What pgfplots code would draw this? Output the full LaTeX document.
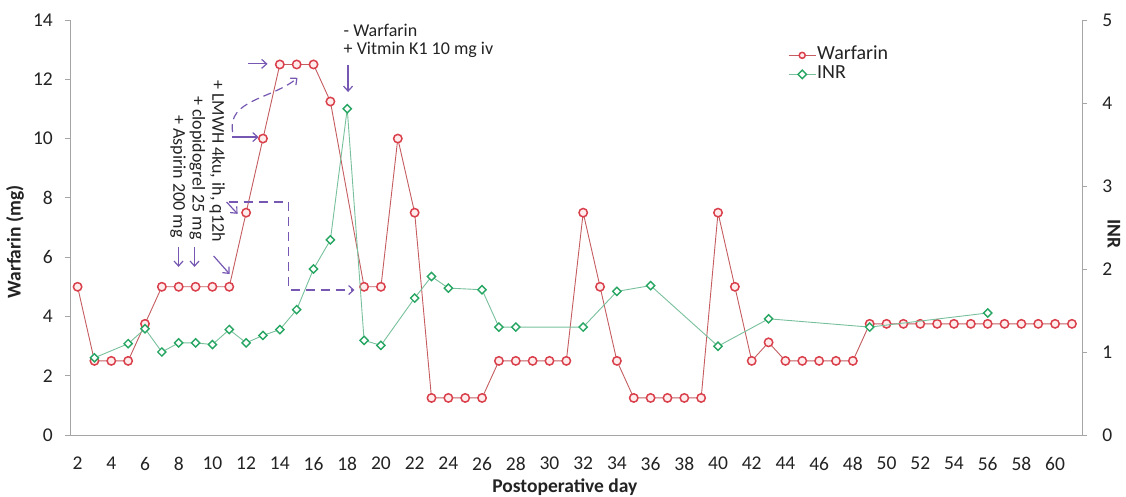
\documentclass[border=0pt]{standalone}
\usepackage{fontspec}
\setmainfont{Carlito}
\usepackage{pgfplots}
\usepackage{pgfplotstable}
\pgfplotsset{compat=1.18}
\usetikzlibrary{arrows.meta}

\definecolor{wred}{RGB}{218,64,76}
\definecolor{wline}{RGB}{196,92,96}
\definecolor{wfill}{RGB}{255,236,236}
\definecolor{igreen}{RGB}{38,166,98}
\definecolor{iline}{RGB}{120,192,156}
\definecolor{ipurple}{RGB}{118,88,178}
\definecolor{axgray}{RGB}{165,165,165}
\definecolor{txt}{RGB}{35,35,35}

\pgfplotstableread{
day warf
2 5
3 2.5
4 2.5
5 2.5
6 3.75
7 5
8 5
9 5
10 5
11 5
12 7.5
13 10
14 12.5
15 12.5
16 12.5
17 11.25
19 5
20 5
21 10
22 7.5
23 1.25
24 1.25
25 1.25
26 1.25
27 2.5
28 2.5
29 2.5
30 2.5
31 2.5
32 7.5
33 5
34 2.5
35 1.25
36 1.25
37 1.25
38 1.25
39 1.25
40 7.5
41 5
42 2.5
43 3.125
44 2.5
45 2.5
46 2.5
47 2.5
48 2.5
49 3.75
50 3.75
51 3.75
52 3.75
53 3.75
54 3.75
55 3.75
56 3.75
57 3.75
58 3.75
59 3.75
60 3.75
61 3.75
}\warfdata

\pgfplotstableread{
day inr
3 0.93
5 1.10
6 1.28
7 1.00
8 1.11
9 1.11
10 1.09
11 1.27
12 1.11
13 1.20
14 1.27
15 1.51
16 2.00
17 2.35
18 3.93
19 1.14
20 1.08
22 1.65
23 1.91
24 1.77
26 1.75
27 1.30
28 1.30
32 1.30
34 1.73
36 1.80
40 1.07
43 1.40
49 1.30
56 1.47
}\inrdata

\newcommand{\annot}{\fontsize{18}{20}\selectfont}
\newcommand{\tickf}{\fontsize{19.5}{22}\selectfont}

\pgfplotsset{
  warfstyle/.style={color=wline, line width=0.9pt, mark=*, mark size=4.2pt,
    mark options={draw=wred, fill=wfill, line width=1.5pt}},
  inrstyle/.style={color=iline, line width=0.9pt, mark=square*, mark size=2.9pt,
    mark options={draw=igreen, fill=white, line width=1.4pt, rotate=45}},
  basestyle/.style={scale only axis, width=1012pt, height=415pt,
    xmin=1.55, xmax=61.6, at={(0pt,0pt)}, anchor=south west,
    axis line style={axgray, line width=0.9pt},
    tick align=outside, major tick length=5pt,
    tick style={axgray, line width=0.9pt},
    /pgf/number format/assume math mode=true,
    every tick label/.append style={font=\tickf, text=txt, inner sep=0pt},
    clip=false},
}

\begin{document}
\begin{tikzpicture}
\begin{axis}[basestyle,
  axis x line*=bottom, axis y line*=left,
  ymin=0, ymax=14,
  xtick={2,4,...,60}, ytick={0,2,...,14},
  x tick style={draw=none},
  xticklabel style={anchor=north, yshift=-17pt},
  yticklabel style={anchor=east, xshift=-12pt},
]
\addplot[warfstyle] table[x=day, y=warf] {\warfdata};

% annotations
\begin{scope}[ipurple, line width=1.2pt, >={Straight Barb[length=5pt,width=9pt]}]
\draw[->] (axis cs:12.14,12.52) -- (axis cs:13.27,12.52);
\draw[->] (axis cs:11.19,10.05) -- (axis cs:12.74,10.05);
\draw[->, dash pattern=on 8pt off 5pt] (axis cs:11.2,10.22) to[out=100,in=220] (axis cs:15.05,12.05);
\draw[->] (axis cs:18.05,12.48) -- (axis cs:18.05,11.57);
\draw[->] (axis cs:7.99,6.34) -- (axis cs:7.99,5.67);
\draw[->] (axis cs:8.94,6.34) -- (axis cs:8.94,5.67);
\draw[->] (axis cs:10.07,6.04) -- (axis cs:11.02,5.43);
\draw[->] (axis cs:10.84,7.86) -- (axis cs:11.49,7.46);
\draw[->, dash pattern=on 9pt off 6pt] (axis cs:10.96,7.86) -- (axis cs:14.51,7.86) -- (axis cs:14.51,4.89) -- (axis cs:18.43,4.89);
\end{scope}
\node[anchor=base west, font=\annot, text=txt, inner sep=0pt] at (axis cs:17.78,13.46) {- Warfarin};
\node[anchor=base west, font=\annot, text=txt, inner sep=0pt] at (axis cs:17.78,12.82) {+ Vitmin K1 10 mg iv};
\node[rotate=-90, anchor=base east, font=\annot, text=txt, inner sep=0pt] at (axis cs:10.0,6.51) {+ LMWH 4ku, ih, q12h};
\node[rotate=-90, anchor=base east, font=\annot, text=txt, inner sep=0pt] at (axis cs:8.82,6.58) {+ clopidogrel 25 mg};
\node[rotate=-90, anchor=base east, font=\annot, text=txt, inner sep=0pt] at (axis cs:7.69,6.65) {+ Aspirin 200 mg};

\node[rotate=90, font=\bfseries\tickf, text=txt] at (rel axis cs:-0.0543,0.465) {Warfarin (mg)};
\node[font=\bfseries\tickf, text=txt] at (rel axis cs:0.489,-0.125) {Postoperative day};
\end{axis}

\begin{axis}[basestyle,
  axis y line*=right, axis x line=none,
  ymin=0, ymax=5, ytick={0,1,...,5},
  yticklabel style={anchor=west, xshift=15pt},
  legend style={at={(rel axis cs:0.7095,0.937)}, anchor=north west, draw=none, fill=none,
    font=\fontsize{20}{22}\selectfont, text=txt, inner sep=0pt,
    nodes={inner sep=1pt, text height=12pt, text depth=4pt}, row sep=1pt},
  legend cell align=left,
  legend image code/.code={\draw[mark repeat=2, mark phase=2, #1, mark size=3pt]
      plot coordinates {(0pt,0pt) (13.5pt,0pt) (27pt,0pt)};},
]
\addlegendimage{warfstyle}
\addlegendentry{Warfarin}
\addplot[inrstyle] table[x=day, y=inr] {\inrdata};
\addlegendentry{INR}
\node[rotate=-90, font=\bfseries\tickf, text=txt, inner sep=0pt] at (rel axis cs:1.0316,0.484) {INR};
\end{axis}

\pgfresetboundingbox
\path[use as bounding box] (-70pt,-62pt) rectangle (1056pt,435pt);
\end{tikzpicture}
\end{document}
